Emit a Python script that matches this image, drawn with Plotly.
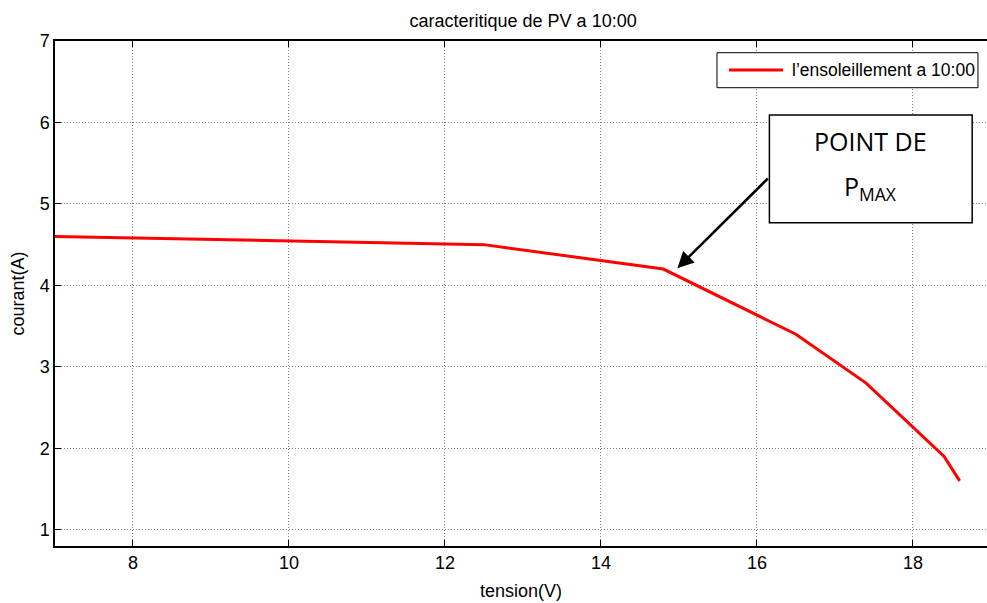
import plotly.graph_objects as go

# I-V characteristic of the PV panel at 10:00
tension = [7.0, 12.5, 14.8, 16.5, 17.4, 18.4, 18.6]
courant = [4.6, 4.5, 4.2, 3.4, 2.8, 1.9, 1.6]
series_name = "l\u2019ensoleillement a 10:00"

x_ticks = [8, 10, 12, 14, 16, 18]
y_ticks = [1, 2, 3, 4, 5, 6, 7]

# maximum power point marker and its label box
pmax_point = (14.98, 4.21)
arrow_tail = (16.16, 5.33)
box_x = (16.16, 18.76)
box_y = (4.77, 6.09)

font_main = "Liberation Sans, Arial, sans-serif"
font_box = "Open Sans, Noto Sans, sans-serif"
line_color = "#ff0000"

fig = go.Figure()
fig.add_trace(go.Scatter(
    x=tension, y=courant, mode="lines",
    line=dict(color=line_color, width=3),
    name=series_name, showlegend=False,
))

axis_common = dict(
    showline=True, linecolor="black", linewidth=1.5,
    ticks="inside", ticklen=6, tickcolor="black",
    showgrid=True, gridcolor="#808080", gridwidth=1, griddash="1px,2px",
    zeroline=False, tickfont=dict(size=18, color="black", family=font_main),
)

fig.update_layout(
    width=987, height=603,
    margin=dict(l=55, r=0, t=41, b=57),
    paper_bgcolor="white", plot_bgcolor="white",
    font=dict(family=font_main, color="black"),
    title=dict(text="caracteritique de PV a 10:00", x=0.53, xanchor="center",
               y=0.966, yanchor="middle", font=dict(size=18, color="black")),
    xaxis=dict(range=[7, 18.95], tickvals=x_ticks, mirror="ticks",
               title=dict(text="tension(V)", font=dict(size=18), standoff=12),
               **axis_common),
    yaxis=dict(range=[0.8, 7], tickvals=y_ticks, mirror=False,
               title=dict(text="courant(A)", font=dict(size=18), standoff=10),
               **axis_common),
)

# legend box, drawn in the upper right corner of the plot area
fig.add_shape(type="rect", xref="paper", yref="paper",
              x0=0.7103, x1=0.9903, y0=0.9075, y1=0.9768,
              fillcolor="white", line=dict(color="black", width=1), layer="above")
fig.add_shape(type="line", xref="paper", yref="paper",
              x0=0.7232, x1=0.7811, y0=0.9426, y1=0.9426,
              line=dict(color=line_color, width=3), layer="above")
fig.add_annotation(xref="paper", yref="paper", x=0.7886, y=0.9426,
                   xanchor="left", yanchor="middle", showarrow=False,
                   text=series_name, font=dict(size=17.5, color="black"))

# label box for the maximum power point
fig.add_shape(type="rect", xref="x", yref="y",
              x0=box_x[0], x1=box_x[1], y0=box_y[0], y1=box_y[1],
              fillcolor="white", line=dict(color="black", width=1.5), layer="above")

box_mid = (box_x[0] + box_x[1]) / 2
fig.add_annotation(
    xref="x", yref="y", x=box_mid, y=5.77,
    text="POINT DE", showarrow=False, yanchor="middle",
    font=dict(size=25, color="black", family=font_box),
)
fig.add_annotation(
    xref="x", yref="y", x=box_mid, y=5.2,
    text="P<sub>MAX</sub>", showarrow=False, yanchor="middle",
    font=dict(size=25, color="black", family=font_box),
)

fig.add_annotation(
    xref="x", yref="y", axref="x", ayref="y",
    x=pmax_point[0], y=pmax_point[1], ax=arrow_tail[0], ay=arrow_tail[1],
    text="", showarrow=True, arrowhead=2, arrowsize=1.3, arrowwidth=2.5,
    arrowcolor="black",
)

fig.write_html("out.html")
